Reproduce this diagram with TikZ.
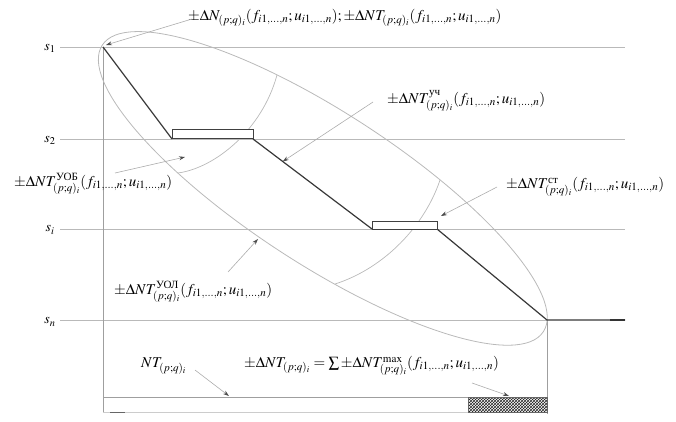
\documentclass[tikz,border=0pt]{standalone}
\usepackage{amsmath}
\usepackage{mathptmx}
\usepackage[no-math]{fontspec}
\setmainfont{Liberation Serif}
\usetikzlibrary{arrows.meta,patterns,calc}
\newcommand{\fpar}{(f_{i1,\ldots,n};u_{i1,\ldots,n})}
\newcommand{\pqi}{(p;q)_i}
\tikzset{
  sline/.style={gray!55,line width=0.9pt},
  axisline/.style={gray!75,line width=0.6pt},
  mainpath/.style={black!78,line width=1.2pt},
  boxshape/.style={black!75,line width=1pt,fill=white},
  ellip/.style={gray!55,line width=0.8pt},
  arcline/.style={gray!55,line width=0.7pt},
  pointer/.style={gray!65,line width=0.6pt,-{Stealth[length=6pt,width=4pt,black!70]}},
  lbl/.style={anchor=west,inner sep=0pt,font=\fontsize{15}{17}\selectfont},
  slbl/.style={inner sep=0pt,font=\fontsize{14}{16}\selectfont}
}
\begin{document}
\begin{tikzpicture}[x=1pt,y=-1pt]
\useasboundingbox (0,0) rectangle (676,422);
% key points
\coordinate (P1) at (103,47);
\coordinate (B1a) at (172,139);
\coordinate (B1b) at (253,139);
\coordinate (B2a) at (372,229);
\coordinate (B2b) at (437,229);
\coordinate (P4) at (547,320);
\coordinate (E) at (625,320);
\coordinate (C) at (322.8,188.4);
% s lines
\draw[sline] (60,47) -- (625,47);
\draw[sline] (60,139) -- (625,139);
\draw[sline] (60,229) -- (625,229);
\draw[sline] (60,320) -- (P4);
\node[slbl] (s1) at (50,48) {$s_1$};
\node[slbl] (s2) at (50,140) {$s_2$};
\node[slbl] (si) at (50,230) {$s_i$};
\node[slbl] (sn) at (50,322) {$s_n$};
% axes
\draw[axisline] (P1) -- (103,412);
\draw[axisline] (P4) -- (547,414);
\draw[axisline] (103,397) -- (547,397);
\draw[gray!40,line width=0.5pt] (103,412) -- (468,412);
\draw[black!60,line width=0.8pt] (110,412) -- (125,412);
\fill[pattern=crosshatch,pattern color=black!85] (468,397) rectangle (547,412);
\draw[black!60,line width=0.5pt] (468,397) rectangle (547,412);
% ellipse and arcs
\draw[ellip,rotate around={-33:(C)}] (C) ellipse [x radius=263pt,y radius=76pt];
\draw[arcline] (277,75) .. controls (262,130) and (215,168) .. (178,173);
\draw[arcline] (440,180) .. controls (425,225) and (385,268) .. (335,284);
% main path
\draw[mainpath] (P1) -- (B1a);
\draw[mainpath] (B1b) -- (B2a);
\draw[mainpath] (B2b) -- (P4) -- (E);
\draw[black!80,line width=2pt] (610,320) -- (E);
\draw[boxshape] (172,130) rectangle (B1b);
\draw[boxshape] (372,221) rectangle (B2b);
% labels
\node[lbl] (top) at (188,18) {$\pm\Delta N_{\pqi}\fpar;\pm\Delta NT_{\pqi}\fpar$};
\node[lbl] (uch) at (387,101) {$\pm\Delta NT^{\text{уч}}_{\pqi}\fpar$};
\node[lbl] (st) at (506,187) {$\pm\Delta NT^{\text{ст}}_{\pqi}\fpar$};
\node[lbl] (uob) at (14,184) {$\pm\Delta NT^{\text{УОБ}}_{\pqi}\fpar$};
\node[lbl] (uol) at (114,292) {$\pm\Delta NT^{\text{УОЛ}}_{\pqi}\fpar$};
\node[lbl] (nt) at (141,366) {$NT_{\pqi}$};
\node[lbl] (sum) at (244,366) {$\pm\Delta NT_{\pqi}=\sum\pm\Delta NT^{\max}_{\pqi}\fpar$};
% pointer tails and tips
\coordinate (t1) at (192,19);   \coordinate (h1) at (106,45);
\coordinate (t2) at (373,102);  \coordinate (h2) at ($(B1b)!0.25!(B2a)$);
\coordinate (t3) at (497,187);  \coordinate (h3) at (441,216);
\coordinate (t4) at (115,173);  \coordinate (h4) at (185,157);
\coordinate (t5) at (228,272);  \coordinate (h5) at (258,239);
\coordinate (t6) at (195,370);  \coordinate (h6) at (229,396);
\coordinate (t7) at (472,383);  \coordinate (h7) at (509,396);
\draw[pointer] (t1) -- (h1);
\draw[pointer] (t2) -- (h2);
\draw[pointer] (t3) -- (h3);
\draw[pointer] (t4) -- (h4);
\draw[pointer] (t5) -- (h5);
\draw[pointer] (t6) -- (h6);
\draw[pointer] (t7) -- (h7);
\end{tikzpicture}
\end{document}
